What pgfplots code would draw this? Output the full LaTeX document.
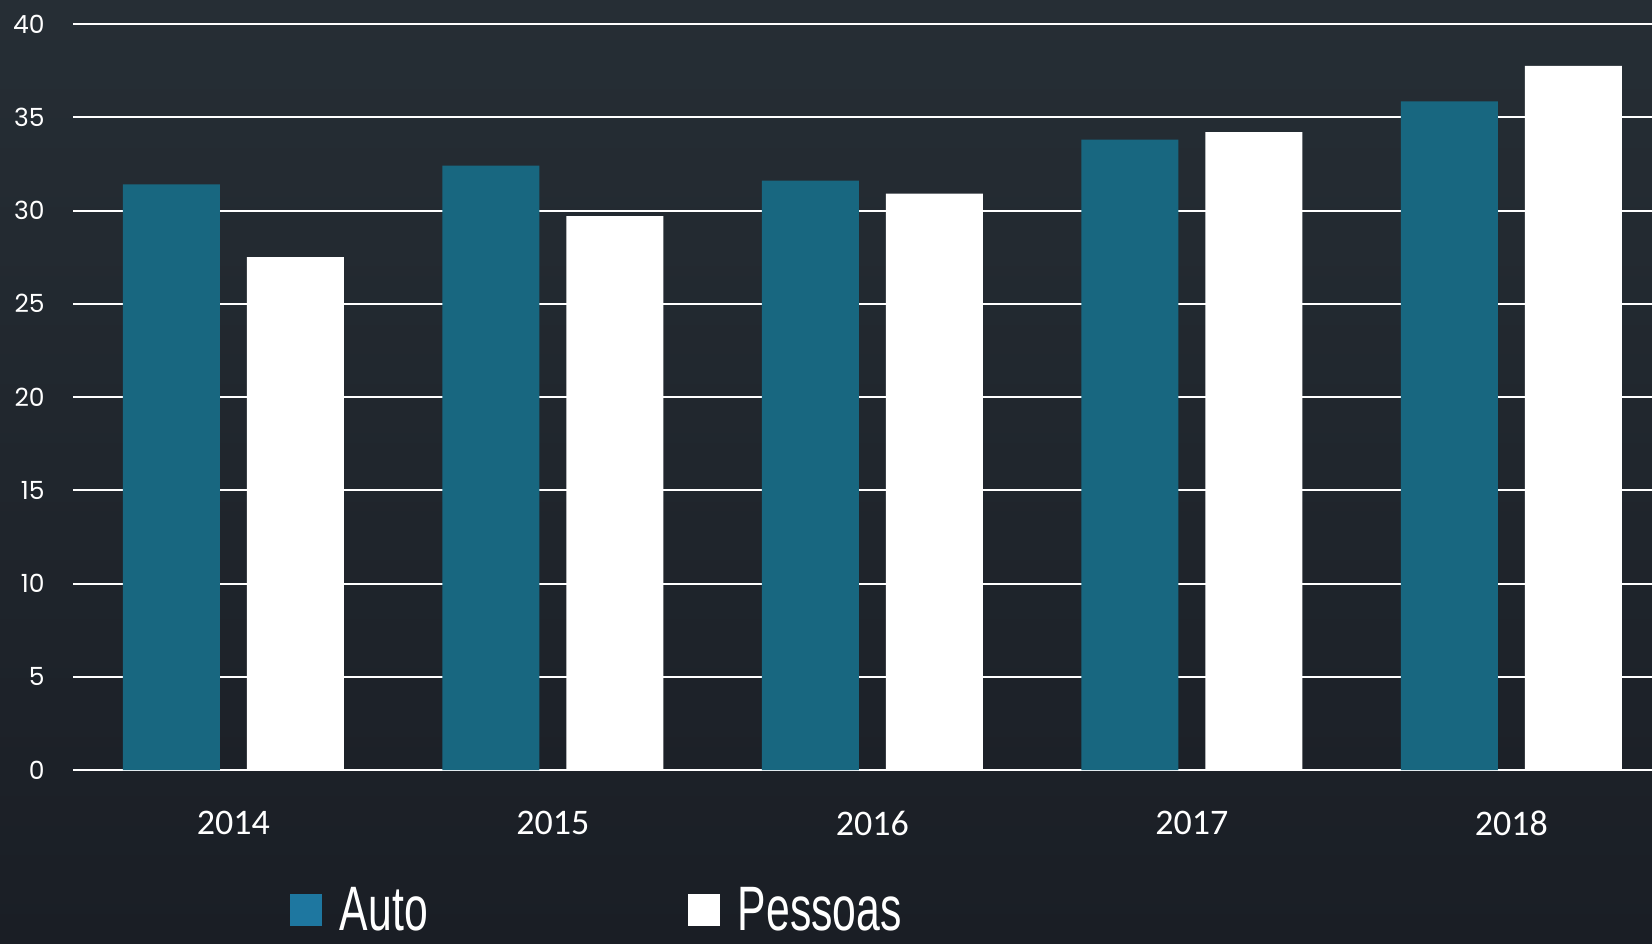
\documentclass[border=0pt]{standalone}
\usepackage{pgfplots}
\pgfplotsset{compat=1.18}
\usepackage{fontspec}
\setmainfont{Liberation Sans}
\newfontfamily\ylabfont{Poppins}
\newfontfamily\xlabfont{Carlito}
\definecolor{bgtop}{HTML}{262E35}
\definecolor{bgbot}{HTML}{1A1E25}
\definecolor{autoblue}{HTML}{186780}
\definecolor{legblue}{HTML}{1E77A0}
\begin{document}
\begin{tikzpicture}
\useasboundingbox (0,0) rectangle (826pt,471.5pt);
\clip (0,0) rectangle (826pt,471.5pt);
\shade[top color=bgtop, bottom color=bgbot] (0,0) rectangle (826pt,471.5pt);
\begin{axis}[
  at={(36.5pt,86.5pt)}, anchor=south west,
  scale only axis, width=789.5pt, height=373pt,
  xmin=-0.502, xmax=4.44, ymin=0, ymax=40,
  ybar, bar width=48.5pt,
  xtick={0,1,2,3,4}, xticklabels={2014,2015,2016,2017,2018},
  ytick={0,5,...,40},
  axis line style={draw=none},
  major tick length=0pt,
  ymajorgrids, grid style={white, line width=1pt},
  /pgf/number format/assume math mode=true,
  yticklabel style={font=\ylabfont\fontsize{12.5}{14}\selectfont, text=white, anchor=east, inner sep=0pt, xshift=-14pt},
  xticklabel style={font=\xlabfont\fontsize{18}{20}\selectfont, text=white, anchor=center, inner sep=0pt, yshift=-26.5pt},
  legend columns=2,
  legend style={at={(0.1374,-0.2185)}, anchor=south west, draw=none, fill=none,
    inner sep=0pt, outer sep=0pt, font=\fontsize{31.4}{32}\selectfont, text=white,
    cells={anchor=west}, nodes={inner sep=0pt, outer sep=0pt},
    /tikz/every even column/.append style={column sep=130pt}},
  legend image code/.code={\fill[#1] (0pt,-8pt) rectangle (16pt,8pt); \path (25pt,0pt);},
]
\addplot[fill=autoblue, draw=none, bar shift=-31pt, forget plot] coordinates {(0,31.4) (1,32.4) (2,31.6) (3,33.8) (4,35.85)};
\addplot[fill=white, draw=none, bar shift=31pt, forget plot] coordinates {(0,27.5) (1,29.7) (2,30.9) (3,34.2) (4,37.75)};
\addlegendimage{fill=legblue, draw=none}
\addlegendentry{\scalebox{0.68}[1]{Auto}}
\addlegendimage{fill=white, draw=none}
\addlegendentry{\scalebox{0.68}[1]{Pessoas}}
\end{axis}
\end{tikzpicture}
\end{document}
